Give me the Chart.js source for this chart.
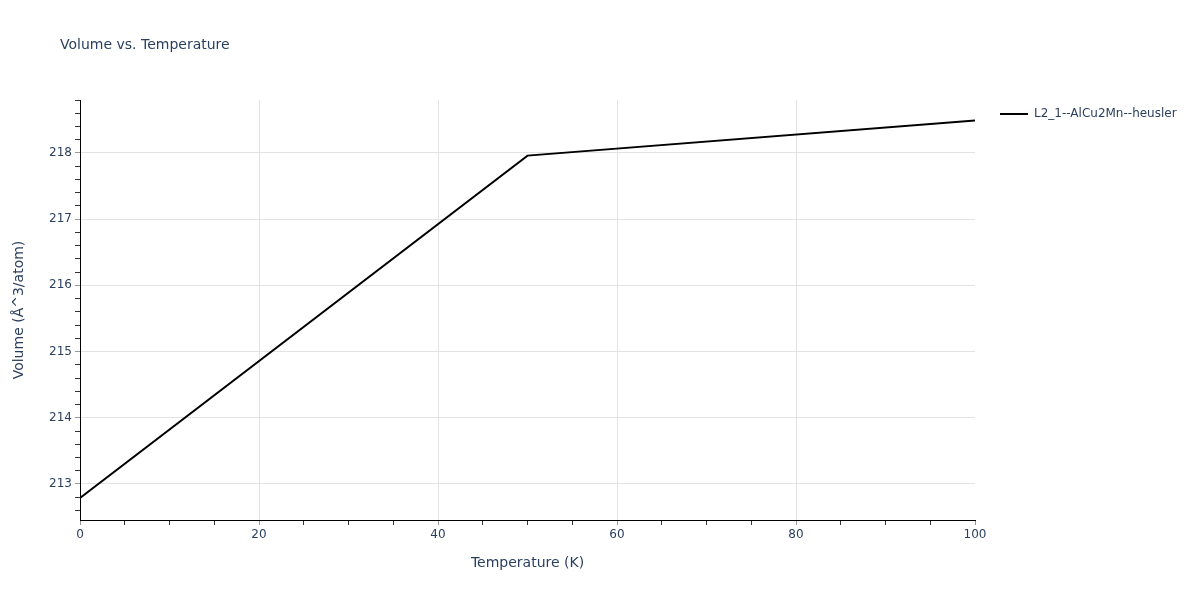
<!DOCTYPE html>
<html>
<head>
<meta charset="utf-8">
<title>Volume vs. Temperature</title>
<script src="https://cdn.jsdelivr.net/npm/chart.js@4.4.1/dist/chart.umd.min.js"></script>
<style>
  html, body { margin: 0; padding: 0; background: #fff; }
  canvas { display: block; }
</style>
</head>
<body>
<canvas id="volumeChart" width="1200" height="600"></canvas>
<script>
// --- Data ---
const temperatures = [0, 50, 100];
const volumes = [212.79, 217.96, 218.49];
const seriesName = 'L2_1--AlCu2Mn--heusler';

// --- Axis ticks ---
const xLabelTicks = [0, 20, 40, 60, 80, 100];
const yLabelTicks = [213, 214, 215, 216, 217, 218];
const xMinorStep = 5;
const yMinorStep = 0.2;

const textColor = '#2a3f5f';
const gridColor = '#e3e3e3';
const fontFamily = "'DejaVu Sans', Verdana, sans-serif";

Chart.defaults.font.family = fontFamily;
Chart.defaults.color = textColor;

function makeTicks(min, max, step) {
  const out = [];
  const start = Math.ceil(min / step - 1e-9);
  const end = Math.floor(max / step + 1e-9);
  for (let i = start; i <= end; i++) out.push(Math.round(i * step * 1000) / 1000);
  return out;
}

function isLabelTick(list, v) {
  return list.some(t => Math.abs(t - v) < 1e-6);
}

// --- Title + legend drawn on the canvas ---
const decorPlugin = {
  id: 'decor',
  afterDraw(chart) {
    const ctx = chart.ctx;
    ctx.save();
    ctx.fillStyle = textColor;
    ctx.textBaseline = 'middle';
    ctx.textAlign = 'left';
    ctx.font = "14px " + fontFamily;
    ctx.fillText('Volume vs. Temperature', 60, 45);

    ctx.strokeStyle = '#000';
    ctx.lineWidth = 2;
    ctx.beginPath();
    ctx.moveTo(1000, 114);
    ctx.lineTo(1028, 114);
    ctx.stroke();
    ctx.font = "12px " + fontFamily;
    ctx.fillText(seriesName, 1034, 114);
    ctx.restore();
  }
};

const ctx = document.getElementById('volumeChart').getContext('2d');
new Chart(ctx, {
  type: 'line',
  data: {
    datasets: [{
      label: seriesName,
      data: temperatures.map((t, i) => ({ x: t, y: volumes[i] })),
      borderColor: '#000',
      borderWidth: 2,
      pointRadius: 0,
      tension: 0,
      fill: false
    }]
  },
  options: {
    responsive: false,
    animation: false,
    layout: { padding: { top: 100, right: 225, bottom: 0, left: 0 } },
    plugins: {
      legend: { display: false },
      title: { display: false },
      tooltip: { enabled: false }
    },
    scales: {
      x: {
        type: 'linear',
        min: 0,
        max: 100,
        afterFit: s => { s.height = 80; },
        afterBuildTicks: s => { s.ticks = makeTicks(0, 100, xMinorStep).map(v => ({ value: v })); },
        border: { display: true, color: '#000', width: 1 },
        grid: {
          color: c => (c.tick && isLabelTick(xLabelTicks, c.tick.value) && c.tick.value > 0 && c.tick.value < 100) ? gridColor : 'rgba(0,0,0,0)',
          tickColor: c => (c.tick && isLabelTick(xLabelTicks, c.tick.value)) ? '#999' : '#333',
          tickLength: 5,
          drawTicks: true
        },
        ticks: {
          autoSkip: false,
          maxRotation: 0,
          padding: 3,
          color: textColor,
          font: { size: 12 },
          callback: v => isLabelTick(xLabelTicks, v) ? String(Math.round(v)) : ''
        },
        title: {
          display: true,
          text: 'Temperature (K)',
          color: textColor,
          font: { size: 14 },
          padding: { top: 0, bottom: 28.6 }
        }
      },
      y: {
        type: 'linear',
        min: 212.456,
        max: 218.8,
        afterFit: s => { s.width = 80; },
        afterBuildTicks: s => { s.ticks = makeTicks(212.456, 218.8, yMinorStep).map(v => ({ value: v })); },
        border: { display: true, color: '#000', width: 1 },
        grid: {
          color: c => (c.tick && isLabelTick(yLabelTicks, c.tick.value)) ? gridColor : 'rgba(0,0,0,0)',
          tickColor: c => (c.tick && isLabelTick(yLabelTicks, c.tick.value)) ? '#999' : '#333',
          tickLength: 5,
          drawTicks: true
        },
        ticks: {
          autoSkip: false,
          padding: 3,
          color: textColor,
          font: { size: 12 },
          callback: v => isLabelTick(yLabelTicks, v) ? String(Math.round(v)) : ''
        },
        title: {
          display: true,
          text: 'Volume (Å^3/atom)',
          color: textColor,
          font: { size: 14 },
          padding: { top: 10.6, bottom: 0 }
        }
      }
    }
  },
  plugins: [decorPlugin]
});
</script>
</body>
</html>
